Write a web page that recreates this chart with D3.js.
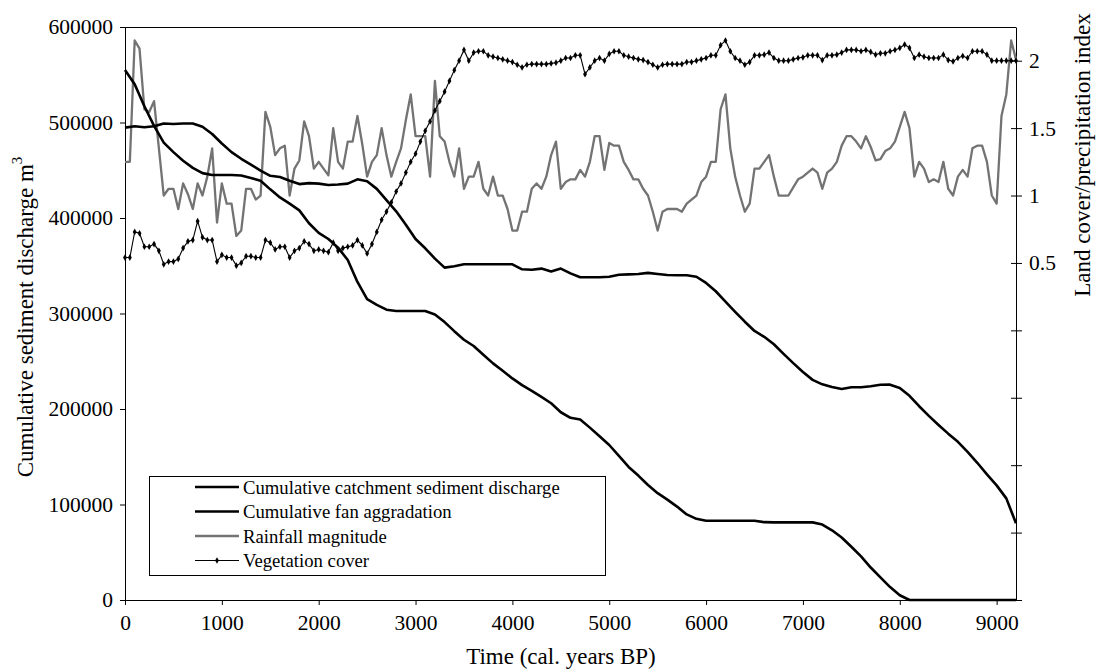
<!DOCTYPE html>
<html><head><meta charset="utf-8">
<script src="https://cdn.jsdelivr.net/npm/d3@7"></script>
<style>
body{margin:0;background:#fff}
svg{display:block}
text{font-family:"Liberation Serif","Times New Roman",serif;fill:#000}
</style>
</head><body><svg id="c" width="1098" height="672"></svg>
<script>
// ---------------- DATA ----------------
const xTicks = [0,1000,2000,3000,4000,5000,6000,7000,8000,9000];
const leftTicks = [0,100000,200000,300000,400000,500000,600000];
const rightTicks = [-2,-1.5,-1,-0.5,0,0.5,1,1.5,2];
const rightLabels = {"0.5":"0.5","1":"1","1.5":"1.5","2":"2"};

const seriesNames = ["Cumulative catchment sediment discharge","Cumulative fan aggradation","Rainfall magnitude","Vegetation cover"];

// cumulative series, every 100 years (0..9200 cal. years BP)
const sedYears = d3.range(0, 9201, 100);
const catchmentDischarge = [555000,540000,517000,496500,479000,469000,460000,452500,447000,445000,
 445000,445000,444500,442000,439000,430000,421500,415000,408000,394500,
 384500,378000,369000,356000,333000,315000,309000,304000,302600,302600,
 302600,302600,299000,291000,281500,272500,266000,256800,247800,240000,
 232000,225000,219000,212600,206000,196600,190800,189000,180500,171400,
 162300,151000,139300,130300,120400,111900,105100,97800,89600,85000,
 83000,83000,83000,83000,83000,83000,81500,81300,81300,81300,
 81300,81300,79000,73000,65500,55800,45600,34000,23600,13500,
 5000,0,0,0,0,0,0,0,0,0,
 0,0,0];
const fanAggradation = [494600,496000,495000,496000,499000,498500,499000,499000,495500,488000,
 478000,469000,462000,456000,449700,444200,443000,439000,435500,436500,
 436000,434500,435000,436000,440500,438500,430500,418700,407000,393000,
 378000,368300,357500,348000,349500,351500,351500,351500,351500,351500,
 351500,346300,345800,347000,344000,347000,342000,338000,338000,338000,
 338500,340500,341000,341300,342500,341300,340300,340000,340000,338500,
 332000,323300,312500,301800,291400,281700,275600,267800,257700,248000,
 238800,230500,225800,223000,221000,222700,222700,223800,225400,225500,
 222000,213800,202900,192800,183300,174200,165600,155000,143700,131500,
 120000,106400,80300];

// index series, every 50 years
const idxYears = d3.range(0, 9201, 50);
const rainfall = [1.25,1.25,2.15,2.09,1.64,1.62,1.70,1.35,1.00,1.05,
 1.05,0.90,1.09,1.01,0.90,1.09,1.00,1.14,1.35,0.80,
 1.09,0.94,0.94,0.70,0.74,1.05,1.05,0.97,1.00,1.62,
 1.51,1.30,1.35,1.37,1.00,1.20,1.26,1.55,1.44,1.20,
 1.25,1.20,1.15,1.50,1.25,1.20,1.40,1.40,1.59,1.38,
 1.14,1.25,1.30,1.50,1.30,1.14,1.25,1.35,1.56,1.75,
 1.44,1.44,1.44,1.14,1.85,1.44,1.40,1.25,1.14,1.35,
 1.05,1.14,1.14,1.25,1.05,1.00,1.14,1.00,1.00,0.90,
 0.74,0.74,0.88,0.88,1.05,1.09,1.05,1.14,1.30,1.40,
 1.05,1.10,1.12,1.12,1.19,1.14,1.25,1.44,1.44,1.19,
 1.39,1.37,1.37,1.25,1.19,1.12,1.12,1.05,1.00,0.88,
 0.74,0.88,0.90,0.90,0.90,0.88,0.94,0.97,1.00,1.10,
 1.14,1.25,1.25,1.64,1.75,1.35,1.14,1.00,0.88,0.94,
 1.20,1.20,1.25,1.30,1.14,1.00,1.00,1.00,1.06,1.12,
 1.14,1.17,1.20,1.17,1.05,1.17,1.20,1.25,1.37,1.44,
 1.44,1.40,1.35,1.44,1.36,1.26,1.27,1.33,1.35,1.40,
 1.51,1.62,1.50,1.14,1.25,1.20,1.10,1.12,1.10,1.25,
 1.05,1.00,1.14,1.19,1.14,1.35,1.37,1.37,1.25,1.00,
 0.94,1.59,1.75,2.15,2.01];
const vegetation = [0.54,0.54,0.73,0.72,0.62,0.62,0.64,0.59,0.49,0.51,
 0.51,0.53,0.61,0.66,0.67,0.81,0.69,0.67,0.67,0.51,
 0.56,0.54,0.54,0.48,0.50,0.55,0.55,0.54,0.54,0.67,
 0.65,0.60,0.62,0.62,0.54,0.59,0.61,0.66,0.64,0.59,
 0.60,0.59,0.58,0.65,0.59,0.61,0.62,0.63,0.67,0.63,
 0.57,0.64,0.73,0.82,0.88,0.95,1.03,1.09,1.17,1.25,
 1.31,1.40,1.48,1.55,1.63,1.70,1.77,1.85,1.93,2.00,
 2.08,2.00,2.06,2.07,2.07,2.04,2.03,2.02,2.01,2.00,
 1.99,1.97,1.95,1.97,1.975,1.975,1.975,1.975,1.98,1.985,
 2.00,2.02,2.02,2.04,2.04,1.90,1.95,2.00,2.02,2.00,
 2.05,2.07,2.07,2.04,2.03,2.02,2.01,2.005,1.99,1.97,
 1.95,1.97,1.975,1.975,1.975,1.975,1.99,1.99,2.00,2.01,
 2.02,2.04,2.04,2.115,2.15,2.07,2.02,2.00,1.97,1.99,
 2.04,2.04,2.045,2.06,2.02,2.00,2.00,2.00,2.01,2.02,
 2.025,2.04,2.04,2.04,2.005,2.04,2.04,2.045,2.06,2.08,
 2.08,2.08,2.07,2.08,2.065,2.045,2.055,2.055,2.07,2.08,
 2.095,2.12,2.095,2.02,2.045,2.03,2.02,2.02,2.02,2.045,
 2.005,1.995,2.02,2.035,2.02,2.07,2.07,2.07,2.045,2.00,
 2.00,2.00,2.00,2.00,2.00];

// ---------------- CHART ----------------
const svg = d3.select("#c");
const m = {left:125, right:1016, top:27, bottom:600};
const x = d3.scaleLinear().domain([0,9200]).range([m.left,m.right]);
const yL = d3.scaleLinear().domain([0,600000]).range([m.bottom,m.top]);
const yR = d3.scaleLinear().domain([-2,2.25]).range([m.bottom,m.top]);

const TICKFS = "21.5px", TITLEFS = "23px", LEGFS = "18.7px";
const RAIN = "#737373";

// top frame line
svg.append("line").attr("x1",m.left).attr("x2",m.right).attr("y1",m.top+0.5).attr("y2",m.top+0.5)
  .attr("stroke","#000").attr("stroke-width",1);

// axes
const gx = svg.append("g").attr("transform",`translate(0,${m.bottom})`)
  .call(d3.axisBottom(x).tickValues(xTicks).tickSize(5).tickSizeOuter(0).tickPadding(10).tickFormat(d3.format("d")));
const gl = svg.append("g").attr("transform",`translate(${m.left},0)`)
  .call(d3.axisLeft(yL).tickValues(leftTicks).tickSize(5).tickSizeOuter(0).tickPadding(7).tickFormat(d3.format("d")));
const gr = svg.append("g").attr("transform",`translate(${m.right},0)`)
  .call(d3.axisRight(yR).tickValues(rightTicks).tickSize(6).tickSizeOuter(0).tickPadding(7)
    .tickFormat(d => rightLabels[String(d)] || ""));
gr.selectAll(".tick").append("line").attr("x1",-5).attr("x2",0).attr("stroke","#000");
[gx,gl,gr].forEach(g=>{
  g.selectAll("text").style("font-size",TICKFS).style("font-family",'"Liberation Serif",serif').attr("fill","#000");
  g.selectAll("line,path").attr("stroke","#000");
});

// lines
const lineSed = (vals) => d3.line().x((d,i)=>x(sedYears[i])).y(d=>yL(d))(vals);
const lineIdx = (vals) => d3.line().x((d,i)=>x(idxYears[i])).y(d=>yR(d))(vals);

svg.append("path").attr("d",lineIdx(rainfall)).attr("fill","none").attr("stroke",RAIN).attr("stroke-width",2.3).attr("stroke-linejoin","round");
svg.append("path").attr("d",lineSed(catchmentDischarge)).attr("fill","none").attr("stroke","#000").attr("stroke-width",2.6).attr("stroke-linejoin","round");
svg.append("path").attr("d",lineSed(fanAggradation)).attr("fill","none").attr("stroke","#000").attr("stroke-width",2.6).attr("stroke-linejoin","round");
svg.append("path").attr("d",lineIdx(vegetation)).attr("fill","none").attr("stroke","#000").attr("stroke-width",1.1);
const diamond = d3.symbol().type(d3.symbolDiamond).size(13);
svg.append("g").selectAll("path").data(vegetation).join("path")
  .attr("d",diamond).attr("transform",(d,i)=>`translate(${x(idxYears[i])},${yR(d)})`).attr("fill","#000");

// titles
svg.append("text").attr("x",561).attr("y",664).attr("text-anchor","middle").style("font-size",TITLEFS)
  .text("Time (cal. years BP)");
const lt = svg.append("text").attr("transform","translate(25,317) rotate(-90)").attr("text-anchor","middle")
  .attr("dominant-baseline","central").style("font-size",TITLEFS);
lt.append("tspan").text("Cumulative sediment discharge m");
lt.append("tspan").attr("baseline-shift","super").style("font-size","15px").text("3");
svg.append("text").attr("transform","translate(1082,155) rotate(-90)").attr("text-anchor","middle")
  .attr("dominant-baseline","central").style("font-size",TITLEFS).text("Land cover/precipitation index");

// legend
const lg = svg.append("g");
lg.append("rect").attr("x",149.5).attr("y",476.5).attr("width",456).attr("height",99)
  .attr("fill","#fff").attr("stroke","#000").attr("stroke-width",1);
const rowsY = [487,511.5,536,560.5];
const styles = [
  {c:"#000",w:2.6,mk:false},{c:"#000",w:2.6,mk:false},{c:RAIN,w:2.3,mk:false},{c:"#000",w:1,mk:true}
];
seriesNames.forEach((n,i)=>{
  lg.append("line").attr("x1",195).attr("x2",239).attr("y1",rowsY[i]).attr("y2",rowsY[i])
    .attr("stroke",styles[i].c).attr("stroke-width",styles[i].w);
  if(styles[i].mk) lg.append("path").attr("d",diamond).attr("transform",`translate(217,${rowsY[i]})`).attr("fill","#000");
  lg.append("text").attr("x",243).attr("y",rowsY[i]).attr("dominant-baseline","central").style("font-size",LEGFS).text(n);
});
</script>
</body></html>
